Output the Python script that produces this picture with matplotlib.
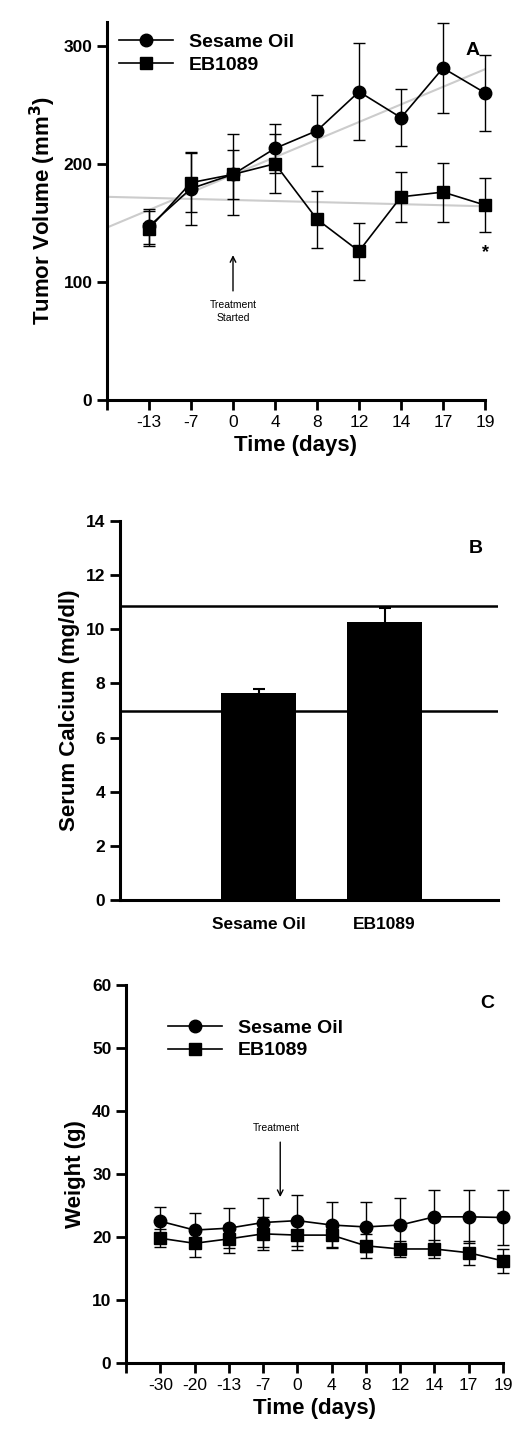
import matplotlib
matplotlib.use("Agg")
import matplotlib.pyplot as plt
from matplotlib.lines import Line2D
import numpy as np

plt.rcParams['font.family'] = ['Liberation Sans', 'DejaVu Sans']

# Panel A
a_days = ['-13', '-7', '0', '4', '8', '12', '14', '17', '19']
a_sesame = [147, 179, 191, 213, 228, 261, 239, 281, 260]
a_sesame_err = [15, 31, 34, 21, 30, 41, 24, 38, 32]
a_eb = [145, 184, 191, 200, 153, 126, 172, 176, 165]
a_eb_err = [15, 25, 21, 25, 24, 24, 21, 25, 23]
a_trend_sesame = [146, 280]
a_trend_eb = [172, 164]

# Panel B
b_groups = ['Sesame Oil', 'EB1089']
b_values = [7.64, 10.26]
b_err = [0.16, 0.51]
b_refs = [10.85, 6.97]

# Panel C
c_days = ['-30', '-20', '-13', '-7', '0', '4', '8', '12', '14', '17', '19']
c_sesame = [22.5, 21.1, 21.4, 22.3, 22.6, 21.9, 21.6, 21.9, 23.2, 23.2, 23.1]
c_sesame_err = [2.3, 2.7, 3.2, 3.9, 4.1, 3.7, 4.0, 4.3, 4.3, 4.2, 4.3]
c_eb = [19.8, 19.0, 19.7, 20.5, 20.3, 20.3, 18.6, 18.1, 18.1, 17.5, 16.2]
c_eb_err = [1.4, 2.2, 2.2, 2.6, 2.4, 1.9, 1.9, 1.3, 1.4, 1.9, 1.9]

W, H = 520, 1449
fig = plt.figure(figsize=(W/100, H/100), dpi=100)

def ax_at(l, r, t, b):
    return fig.add_axes([l/W, 1-b/H, (r-l)/W, (b-t)/H])

def style(ax):
    for s in ['top', 'right']:
        ax.spines[s].set_visible(False)
    for s in ['left', 'bottom']:
        ax.spines[s].set_linewidth(2.2)
    ax.tick_params(width=2, length=7, labelsize=12.5)
    for lab in ax.get_yticklabels():
        lab.set_fontweight('bold')

lab_kw = dict(fontsize=16, fontweight='bold')

def legend(ax, anchor):
    h = [Line2D([], [], color='black', marker='o', ms=9, lw=1.2),
         Line2D([], [], color='black', marker='s', ms=8, lw=1.2)]
    ax.legend(h, ['Sesame Oil', 'EB1089'], loc='upper left', bbox_to_anchor=anchor,
              frameon=False, prop={'weight': 'bold', 'size': 14}, handlelength=2.8,
              borderaxespad=0.2, labelspacing=0.25, handletextpad=0.8)

def series(ax, x, y, e, marker, ms):
    ln = ax.errorbar(x, y, yerr=e, color='black', marker=marker, ms=ms, lw=1.2,
                     elinewidth=1, capsize=4, zorder=3)
    for art in ln.lines[0:1] + tuple(ln.lines[1]) + tuple(ln.lines[2]):
        art.set_clip_on(False)

# ---- A
ax = ax_at(107, 485, 22, 400)
x = np.arange(len(a_days))
ax.plot([-1, 8], a_trend_sesame, color='#cccccc', lw=1.5, zorder=1)
ax.plot([-1, 8], a_trend_eb, color='#cccccc', lw=1.5, zorder=1)
series(ax, x, a_sesame, a_sesame_err, 'o', 9)
series(ax, x, a_eb, a_eb_err, 's', 8)
ax.set_xlim(-1, 8)
ax.set_ylim(0, 320)
ax.set_xticks(np.arange(-1, 9))
ax.set_xticklabels([''] + a_days)
ax.set_yticks([0, 100, 200, 300])
style(ax)
ax.set_xlabel('Time (days)', **lab_kw)
ax.set_ylabel('Tumor Volume (mm$^\\mathbf{3}$)', **lab_kw)
legend(ax, (0.0, 1.0))
ax.text(7.7, 296, 'A', fontsize=14, fontweight='bold', ha='center', va='center')
ax.text(8, 125, '*', fontsize=13, fontweight='bold', ha='center', va='center')
ax.annotate('', xy=(2, 125), xytext=(2, 90),
            arrowprops=dict(arrowstyle='->', color='black', lw=1))
ax.text(2, 75, 'Treatment\nStarted', fontsize=7.5, ha='center', va='center', linespacing=1.4)

# ---- B
ax = ax_at(120, 498, 521, 900)
xb = np.array([1, 2])
ax.bar(xb, b_values, width=0.6, color='black', yerr=b_err, capsize=4,
       error_kw=dict(elinewidth=1.5, capthick=1.5, ecolor='black'))
for r in b_refs:
    ax.axhline(r, color='black', lw=1.8)
ax.set_xlim(-0.1, 2.9)
ax.set_ylim(0, 14)
ax.set_xticks(xb)
ax.set_xticklabels(b_groups)
ax.set_yticks(range(0, 15, 2))
style(ax)
ax.tick_params(axis='x', length=0, pad=12)
for lab in ax.get_xticklabels():
    lab.set_fontweight('bold')
ax.set_ylabel('Serum Calcium (mg/dl)', **lab_kw)
ax.text(2.72, 13, 'B', fontsize=14, fontweight='bold', ha='center', va='center')

# ---- C
ax = ax_at(126, 503, 985, 1363)
xc = np.arange(len(c_days))
series(ax, xc, c_sesame, c_sesame_err, 'o', 9)
series(ax, xc, c_eb, c_eb_err, 's', 8)
ax.set_xlim(-1, 10)
ax.set_ylim(0, 60)
ax.set_xticks(np.arange(-1, 11))
ax.set_xticklabels([''] + c_days)
ax.set_yticks(range(0, 61, 10))
style(ax)
ax.set_xlabel('Time (days)', **lab_kw)
ax.set_ylabel('Weight (g)', **lab_kw)
legend(ax, (0.08, 0.94))
ax.text(9.55, 57, 'C', fontsize=14, fontweight='bold', ha='center', va='center')
ax.annotate('', xy=(3.5, 25.9), xytext=(3.5, 35.5),
            arrowprops=dict(arrowstyle='->', color='black', lw=1))
ax.text(3.4, 37.3, 'Treatment', fontsize=7.5, ha='center', va='center')

fig.savefig('out.png', dpi=100)
